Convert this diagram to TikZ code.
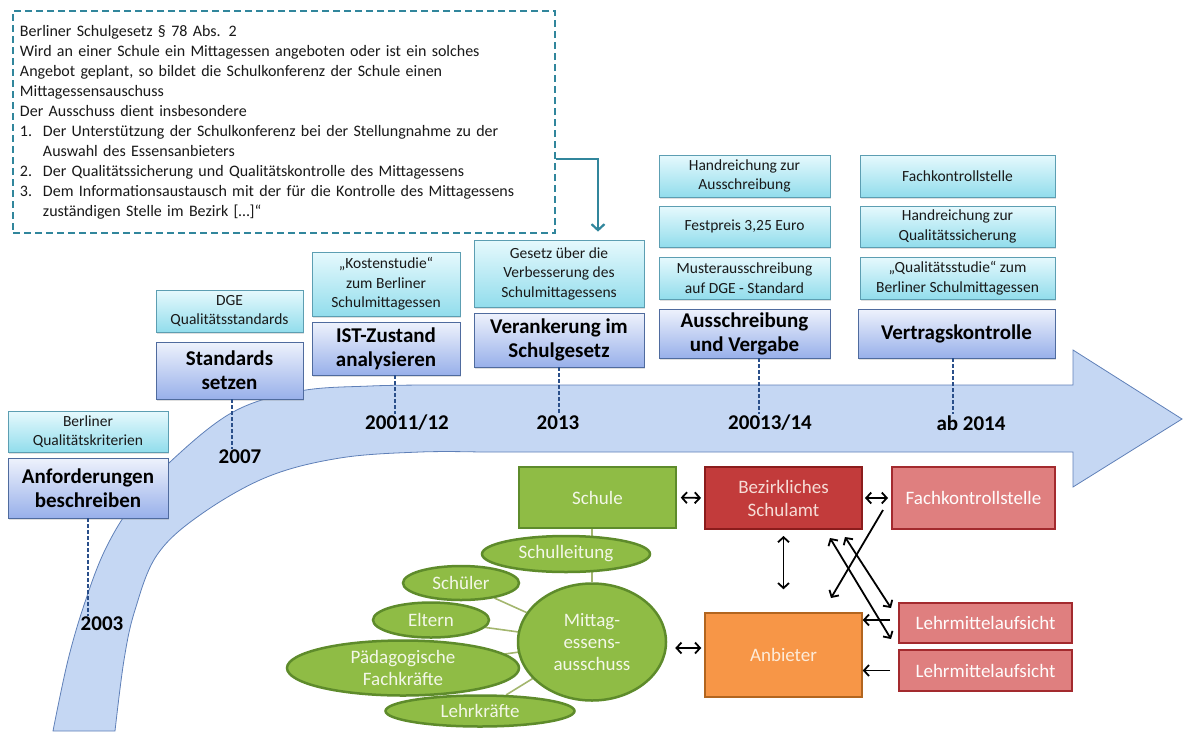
\documentclass[tikz,border=0pt]{standalone}
\usepackage{fontspec}
\setmainfont{Carlito}
\usetikzlibrary{arrows.meta,shapes.geometric,backgrounds,shadows}
\definecolor{bandfill}{HTML}{C5D7F3}
\definecolor{banddraw}{HTML}{5F80B8}
\definecolor{stagetop}{HTML}{EEF2FC}
\definecolor{stagebot}{HTML}{98B0EA}
\definecolor{stageborder}{HTML}{4F6B9E}
\definecolor{labeltop}{HTML}{E6F9FD}
\definecolor{labelbot}{HTML}{92DDEC}
\definecolor{labelborder}{HTML}{5C9EB2}
\definecolor{lawcol}{HTML}{31869C}
\definecolor{yearline}{HTML}{2A4F8A}
\definecolor{grnfill}{HTML}{8FBC45}
\definecolor{grnborder}{HTML}{5E8B2B}
\definecolor{grntext}{HTML}{F3F7E8}
\definecolor{grnline}{HTML}{A3B66E}
\definecolor{redfill}{HTML}{C23B3B}
\definecolor{redborder}{HTML}{8B1C1C}
\definecolor{redtext}{HTML}{F6DCD6}
\definecolor{pinkfill}{HTML}{DF7F7F}
\definecolor{pinkborder}{HTML}{A32A2E}
\definecolor{orfill}{HTML}{F79647}
\definecolor{orborder}{HTML}{B2651F}
\definecolor{ortext}{HTML}{FDEBD9}
\begin{document}
\begin{tikzpicture}[x=1pt,y=-1pt,
  stagebox/.style={rectangle, draw=stageborder, line width=0.8pt, top color=stagetop, bottom color=stagebot,
    font=\fontsize{21}{24}\selectfont\bfseries, align=center, inner sep=0pt, text=black,
    drop shadow={opacity=0.25, shadow xshift=1pt, shadow yshift=-2pt}},
  labelbox/.style={rectangle, draw=labelborder, line width=0.8pt, top color=labeltop, bottom color=labelbot,
    font=\fontsize{15.5}{19.5}\selectfont, align=center, inner sep=0pt, text=black!90,
    drop shadow={opacity=0.25, shadow xshift=1pt, shadow yshift=-2pt}},
  yearlbl/.style={font=\fontsize{21}{24}\selectfont\bfseries, text=black, inner sep=1pt},
  yeardash/.style={draw=yearline, line width=1.2pt, dash pattern=on 4pt off 2pt},
  lawbox/.style={rectangle, draw=lawcol, line width=2pt, dash pattern=on 7pt off 4pt, fill=white,
    font=\fontsize{16}{20}\selectfont, align=left, text=black!90, inner sep=0pt},
  lawline/.style={draw=lawcol, line width=2.2pt, -{Straight Barb[length=6pt,width=13pt]}},
  greenbox/.style={rectangle, draw=grnborder, line width=1.5pt, fill=grnfill, text=grntext,
    font=\fontsize{19}{22}\selectfont, align=center, inner sep=0pt},
  greenell/.style={ellipse, draw=grnborder, line width=2.5pt, fill=grnfill, text=grntext,
    font=\fontsize{19}{22}\selectfont, align=center, inner sep=0pt},
  redbox/.style={rectangle, draw=redborder, line width=2pt, fill=redfill, text=redtext,
    font=\fontsize{19}{23}\selectfont, align=center, inner sep=0pt},
  pinkbox/.style={rectangle, draw=pinkborder, line width=2pt, fill=pinkfill, text=white!95!pink,
    font=\fontsize{19}{22}\selectfont, align=center, inner sep=0pt},
  orbox/.style={rectangle, draw=orborder, line width=1.5pt, fill=orfill, text=ortext,
    font=\fontsize{19}{22}\selectfont, align=center, inner sep=0pt},
  grnconn/.style={draw=grnline, line width=1.6pt},
  dbl/.style={draw=black, line width=1.8pt, {Straight Barb[length=5pt,width=11pt]}-{Straight Barb[length=5pt,width=11pt]}},
  sgl/.style={draw=black, line width=1.8pt, -{Straight Barb[length=5pt,width=11pt]}}
]
\useasboundingbox (0,0) rectangle (1183,731);

% ---------- stages ----------
\node[stagebox, minimum width=160, minimum height=60] (S1) at (88,488) {Anforderungen\\beschreiben};
\node[labelbox, minimum width=160, minimum height=41] (L1) at (88,431.5) {Berliner\\Qualitätskriterien};
\node[stagebox, minimum width=147, minimum height=57] (S2) at (229.5,370.5) {Standards\\setzen};
\node[labelbox, minimum width=147, minimum height=42] (L2) at (229.5,311) {DGE\\Qualitätsstandards};
\node[stagebox, minimum width=148, minimum height=53] (S3) at (386,348.5) {IST-Zustand\\analysieren};
\node[labelbox, minimum width=148, minimum height=64] (L3) at (386,284) {„Kostenstudie“\\zum Berliner\\Schulmittagessen};
\node[stagebox, minimum width=170, minimum height=54] (S4) at (559,340) {Verankerung im\\Schulgesetz};
\node[labelbox, minimum width=170, minimum height=67] (L4) at (559,273.5) {Gesetz über die\\Verbesserung des\\Schulmittagessens};
\node[stagebox, minimum width=171, minimum height=49] (S5) at (744.5,333.5) {Ausschreibung\\und Vergabe};
\node[labelbox, minimum width=171, minimum height=42] (L5c) at (744.5,278) {Musterausschreibung\\auf DGE - Standard};
\node[labelbox, minimum width=171, minimum height=41] (L5b) at (744.5,226.5) {Festpreis 3,25 Euro};
\node[labelbox, minimum width=171, minimum height=42] (L5a) at (744.5,176) {Handreichung zur\\Ausschreibung};
\node[stagebox, minimum width=197, minimum height=49] (S6) at (956.5,333.5) {Vertragskontrolle};
\node[labelbox, minimum width=195, minimum height=42] (L6c) at (957.5,278) {„Qualitätsstudie“ zum\\Berliner Schulmittagessen};
\node[labelbox, minimum width=195, minimum height=41] (L6b) at (957.5,226.5) {Handreichung zur\\Qualitätssicherung};
\node[labelbox, minimum width=195, minimum height=42] (L6a) at (957.5,176) {Fachkontrollstelle};

% ---------- years ----------
\node[yearlbl] (Y1) at (102,624) {2003};
\node[yearlbl] (Y2) at (240,457) {2007};
\node[yearlbl] (Y3) at (407,423) {20011/12};
\node[yearlbl] (Y4) at (558,423) {2013};
\node[yearlbl] (Y5) at (770,423) {20013/14};
\node[yearlbl] (Y6) at (971,423) {ab 2014};
\draw[yeardash] (S1.south) -- (S1.south |- Y1.north);
\draw[yeardash] ([xshift=2.5]S2.south) -- ([xshift=2.5]S2.south |- Y2.north);
\draw[yeardash] ([xshift=9]S3.south) -- ([xshift=9]S3.south |- Y3.north);
\draw[yeardash] (S4.south) -- (S4.south |- Y4.north);
\draw[yeardash] ([xshift=14.5]S5.south) -- ([xshift=14.5]S5.south |- Y5.north);
\draw[yeardash] ([xshift=-3.5]S6.south) -- ([xshift=-3.5]S6.south |- Y6.north);

% ---------- law text ----------
\node[lawbox, anchor=north west, minimum width=542, minimum height=222, text width=530] (law) at (12,10)
{\hspace*{1pt}Berliner Schulgesetz § 78 Abs. 2\\
\hspace*{1pt}Wird an einer Schule ein Mittagessen angeboten oder ist ein solches\\
\hspace*{1pt}Angebot geplant, so bildet die Schulkonferenz der Schule einen\\
\hspace*{1pt}Mittagessensauschuss\\
\hspace*{1pt}Der Ausschuss dient insbesondere\\
\hspace*{1pt}\makebox[23pt][l]{1.}Der Unterstützung der Schulkonferenz bei der Stellungnahme zu der\\
\hspace*{24pt}Auswahl des Essensanbieters\\
\hspace*{1pt}\makebox[23pt][l]{2.}Der Qualitätssicherung und Qualitätskontrolle des Mittagessens\\
\hspace*{1pt}\makebox[23pt][l]{3.}Dem Informationsaustausch mit der für die Kontrolle des Mittagessens\\
\hspace*{24pt}zuständigen Stelle im Bezirk […]“};
\draw[lawline, shorten >=8pt] ([yshift=-37]law.east) -| ([xshift=39]L4.north);

% ---------- lower diagram ----------
\node[greenbox, minimum width=157, minimum height=61] (Schule) at (597.5,497.5) {Schule};
\node[greenell, minimum width=148, minimum height=117] (Mittag) at (592,642) {Mittag-\\essens-\\ausschuss};
\node[greenell, minimum width=168, minimum height=36] (Leitung) at (566,554) {Schulleitung};
\node[greenell, minimum width=116, minimum height=34] (Schueler) at (461,583) {Schüler};
\node[greenell, minimum width=116, minimum height=35] (Eltern) at (431,620) {Eltern};
\node[greenell, minimum width=232, minimum height=55] (Paed) at (403,668) {Pädagogische\\Fachkräfte};
\node[greenell, minimum width=189, minimum height=31] (Lehr) at (480,711) {Lehrkräfte};

\node[redbox, minimum width=157, minimum height=62] (Bez) at (783.5,498) {Bezirkliches\\Schulamt};
\node[pinkbox, minimum width=163, minimum height=62] (Fach) at (973.5,498) {Fachkontrollstelle};
\node[orbox, minimum width=157, minimum height=84] (Anb) at (783.5,655) {Anbieter};
\node[pinkbox, minimum width=173, minimum height=40] (LA1) at (985.5,623) {Lehrmittelaufsicht};
\node[pinkbox, minimum width=173, minimum height=41] (LA2) at (985.5,670.5) {Lehrmittelaufsicht};

\coordinate (fa) at (883,510);
\coordinate (fb) at (831,598);
\coordinate (xa) at (830,538);
\coordinate (xb) at (891,639);
\coordinate (ya) at (845,537);
\coordinate (yb) at (891,608);

\begin{scope}[on background layer]
\path[fill=bandfill, draw=banddraw, line width=0.8pt]
  plot[smooth, tension=0.6] coordinates {(53,731) (68,660) (85,602) (105,550) (132,505) (170,462) (233,412) (300,391) (370,386) (430,385)}
  -- (1073,385) -- (1073,350) -- (1182,419) -- (1073,487) -- (1073,452)
  -- plot[smooth, tension=0.6] coordinates {(480,452) (420,452) (340,458) (267,477) (200,515) (157,555) (135,610) (124,660) (115,731)}
  -- cycle;
\draw[grnconn] (Mittag.north) -- (Mittag.north |- Schule.south);
\draw[grnconn] (Schueler) -- (Mittag);
\draw[grnconn] (Eltern) -- (Mittag);
\draw[grnconn] (Paed) -- (Mittag);
\draw[grnconn] (Lehr) -- (Mittag);
\end{scope}

\draw[dbl, shorten <=4pt, shorten >=3pt] (Schule.east) -- (Bez.west);
\draw[dbl, shorten <=8pt, shorten >=3pt] ([yshift=-6]Mittag.east) -- ([yshift=-6]Mittag.east -| Anb.west);
\draw[dbl, shorten <=2pt, shorten >=3pt] (Bez.east) -- (Fach.west);
\draw[dbl, shorten <=6pt, shorten >=23pt] (Bez.south) -- (Anb.north);
\draw[sgl] (fa) -- (fb);
\draw[dbl] (xa) -- (xb);
\draw[dbl] (ya) -- (yb);
\draw[sgl, shorten <=8pt] ([yshift=3]LA1.west) -- ([yshift=3]LA1.west -| Anb.east);
\draw[sgl, shorten <=8pt] (LA2.west) -- (LA2.west -| Anb.east);
\end{tikzpicture}
\end{document}
